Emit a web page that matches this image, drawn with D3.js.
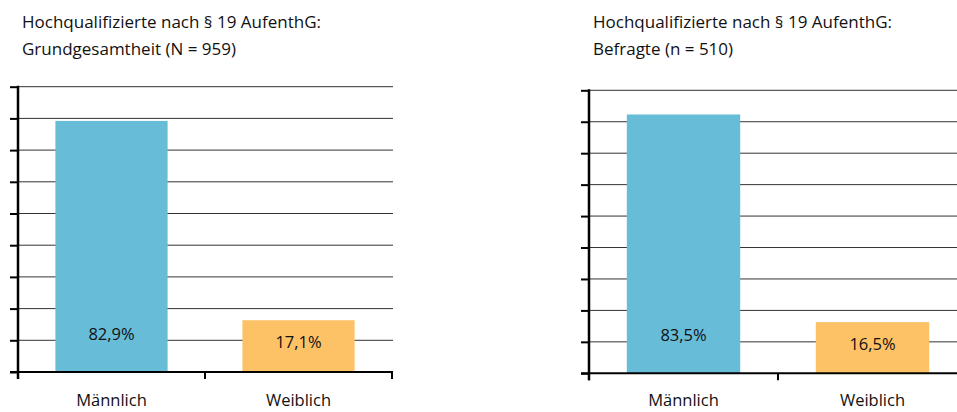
<!DOCTYPE html>
<html>
<head>
<meta charset="utf-8">
<script src="https://cdn.jsdelivr.net/npm/d3@7"></script>
<style>
  body { margin: 0; background: #fff; }
  svg { display: block; font-family: "Open Sans", sans-serif; }
</style>
</head>
<body>
<svg width="957" height="412"></svg>
<script>
var categories = ["Männlich", "Weiblich"];

var valuesGesamt = [82.9, 17.1];
var valuesBefragte = [83.5, 16.5];

var titlesGesamt = ["Hochqualifizierte nach § 19 AufenthG:", "Grundgesamtheit (N = 959)"];
var titlesBefragte = ["Hochqualifizierte nach § 19 AufenthG:", "Befragte (n = 510)"];

// axis tops (no tick labels shown)
var yMaxGesamt = 94.2;
var yMaxBefragte = 91.3;
var gridCount = 9;

var colors = ["#67bcd8", "#fdc166"];

var svg = d3.select("svg");

function fmt(v) {
  return d3.format(".1f")(v).replace(".", ",") + "%";
}

function drawChart(opts) {
  var g = svg.append("g")
    .attr("transform", "translate(" + opts.left + ",0)");

  var x = d3.scaleBand()
    .domain(categories)
    .range([0, opts.width])
    .paddingInner(0.4)
    .paddingOuter(0.2);

  var y = d3.scaleLinear()
    .domain([0, opts.yMax])
    .range([opts.bottom, opts.top]);

  var ticks = d3.range(0, gridCount + 1).map(function (i) { return i * opts.yMax / gridCount; });

  // titles
  g.selectAll("text.title")
    .data(opts.titles)
    .enter()
    .append("text")
    .attr("class", "title")
    .attr("x", 4)
    .attr("y", function (d, i) { return 28 + i * 27; })
    .attr("font-size", 17)
    .attr("fill", "#111")
    .text(function (d) { return d; });

  // gridlines
  g.selectAll("line.grid")
    .data(ticks.slice(1))
    .enter()
    .append("line")
    .attr("class", "grid")
    .attr("x1", 0)
    .attr("x2", opts.gridEnd)
    .attr("y1", function (d) { return y(d); })
    .attr("y2", function (d) { return y(d); })
    .attr("stroke", "#333")
    .attr("stroke-width", 1);

  // bars
  g.selectAll("rect.bar")
    .data(opts.values)
    .enter()
    .append("rect")
    .attr("class", "bar")
    .attr("x", function (d, i) { return x(categories[i]); })
    .attr("width", x.bandwidth())
    .attr("y", function (d) { return y(d); })
    .attr("height", function (d) { return y(0) - y(d); })
    .attr("fill", function (d, i) { return colors[i]; });

  // value labels near the foot of each bar
  g.selectAll("text.val")
    .data(opts.values)
    .enter()
    .append("text")
    .attr("class", "val")
    .attr("x", function (d, i) { return x(categories[i]) + x.bandwidth() / 2; })
    .attr("y", function (d) {
      var h = y(0) - y(d);
      return y(0) - Math.min(38, h / 2 + 4);
    })
    .attr("dy", "0.35em")
    .attr("text-anchor", "middle")
    .attr("font-size", 16.5)
    .attr("fill", "#111")
    .text(fmt);

  // y axis: ticks only, no labels
  var yAxis = d3.axisLeft(y)
    .tickValues(ticks)
    .tickSize(8)
    .tickFormat("");
  var ya = g.append("g").call(yAxis);
  ya.select(".domain").remove();
  ya.selectAll(".tick line").attr("stroke", "#000").attr("stroke-width", 2);
  g.append("line")
    .attr("x1", 0).attr("x2", 0)
    .attr("y1", opts.top - 1).attr("y2", opts.bottom + 7)
    .attr("stroke", "#000").attr("stroke-width", 2.5);

  // x axis: baseline with ticks at band edges
  g.append("line")
    .attr("x1", -8).attr("x2", opts.gridEnd)
    .attr("y1", y(0)).attr("y2", y(0))
    .attr("stroke", "#000").attr("stroke-width", 2);
  var edges = [0].concat(categories.map(function (c) { return x(c) + x.bandwidth() + x.step() * x.paddingOuter(); }));
  g.selectAll("line.xtick")
    .data(edges)
    .enter()
    .append("line")
    .attr("class", "xtick")
    .attr("x1", function (d) { return d; })
    .attr("x2", function (d) { return d; })
    .attr("y1", y(0))
    .attr("y2", y(0) + 7)
    .attr("stroke", "#000")
    .attr("stroke-width", 2);

  // category labels
  g.selectAll("text.cat")
    .data(categories)
    .enter()
    .append("text")
    .attr("class", "cat")
    .attr("x", function (d) { return x(d) + x.bandwidth() / 2; })
    .attr("y", 406)
    .attr("text-anchor", "middle")
    .attr("font-size", 16.5)
    .attr("fill", "#111")
    .text(function (d) { return d; });
}

drawChart({
  left: 18, width: 374, gridEnd: 375,
  top: 86.7, bottom: 372,
  yMax: yMaxGesamt, values: valuesGesamt, titles: titlesGesamt
});

drawChart({
  left: 589, width: 378, gridEnd: 370,
  top: 90.3, bottom: 373.3,
  yMax: yMaxBefragte, values: valuesBefragte, titles: titlesBefragte
});
</script>
</body>
</html>
